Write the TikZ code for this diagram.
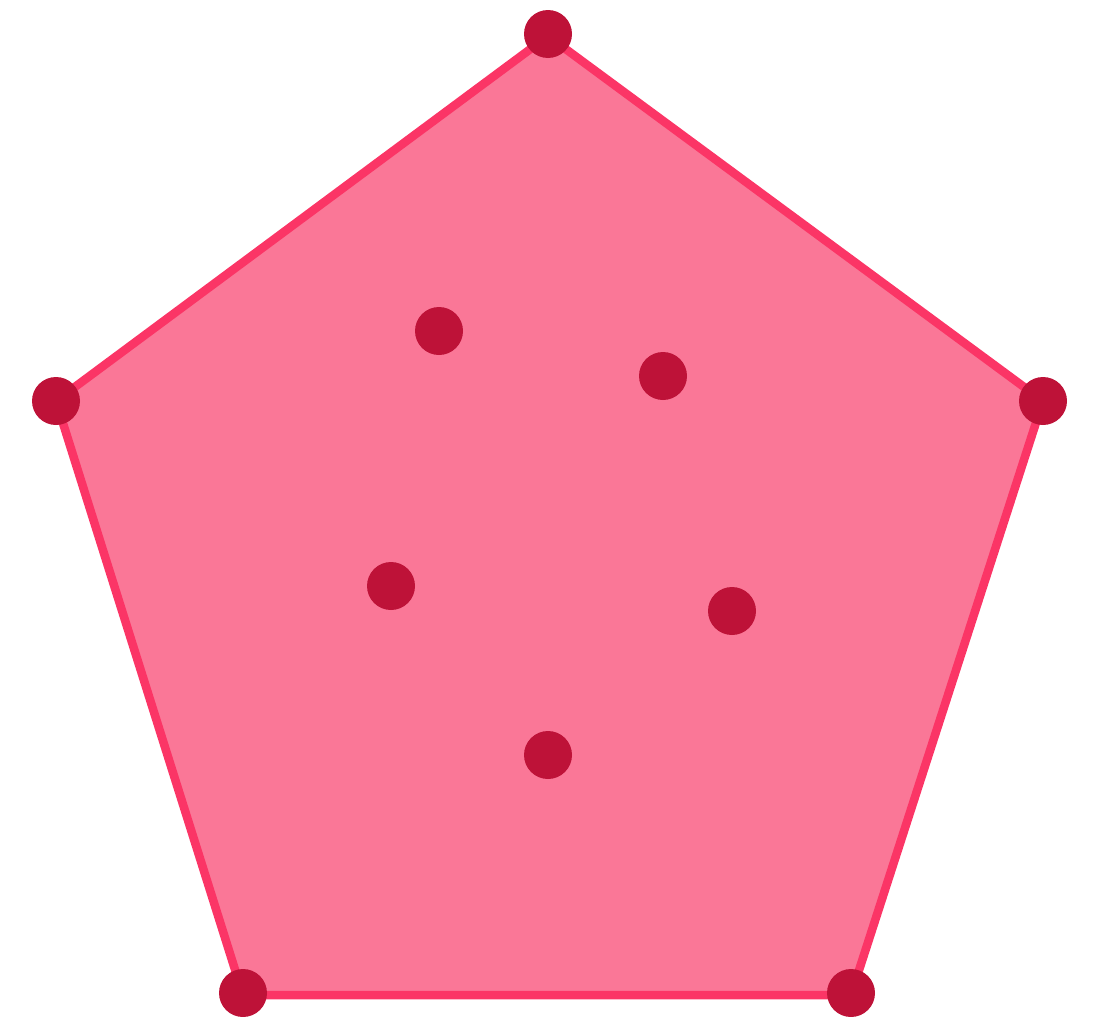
\documentclass[tikz,border=0pt]{standalone}
\definecolor{edgec}{HTML}{FB3566}
\definecolor{fillc}{HTML}{FA7797}
\definecolor{dotc}{HTML}{BE1238}
\tikzset{dot/.style={circle,fill=dotc,inner sep=0pt,minimum size=48pt}}
\begin{document}
\begin{tikzpicture}[x=1pt,y=-1pt]
\useasboundingbox (0,0) rectangle (1098,1017);
\coordinate (t) at (548,36);
\coordinate (l) at (56,401);
\coordinate (r) at (1043,401);
\coordinate (bl) at (243,995);
\coordinate (br) at (851,995);
\draw[edgec,line width=8.5pt,fill=fillc,line join=round] (t) -- (r) -- (br) -- (bl) -- (l) -- cycle;
\node[dot] (v1) at (548,34) {};
\node[dot] (v2) at (56,401) {};
\node[dot] (v3) at (1043,401) {};
\node[dot] (v4) at (243,993) {};
\node[dot] (v5) at (851,993) {};
\node[dot] (p1) at (439,331) {};
\node[dot] (p2) at (663,376) {};
\node[dot] (p3) at (391,586) {};
\node[dot] (p4) at (732,611) {};
\node[dot] (p5) at (548,755) {};
\end{tikzpicture}
\end{document}
